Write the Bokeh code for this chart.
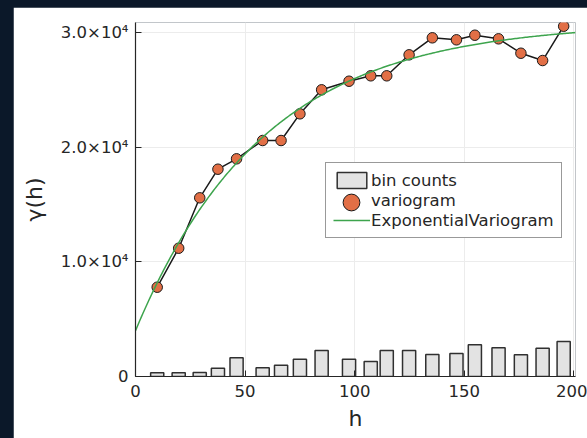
import numpy as np
from bokeh.plotting import figure
from bokeh.models import Range1d, FixedTicker, CustomJSTickFormatter, Legend, LegendItem
from bokeh.embed import file_html
from bokeh.resources import INLINE

# Empirical variogram: lag bin centres, semivariance and bin-count bar heights
lag = [9.9, 19.7, 29.3, 37.6, 46.1, 58.0, 66.4, 75.0, 84.9, 97.4,
       107.3, 114.6, 124.8, 135.4, 146.4, 154.8, 165.6, 175.8, 185.7, 195.3]
gamma = [7794, 11198, 15597, 18094, 19001, 20599, 20599, 22929, 25024, 25775,
         26246, 26246, 28079, 29563, 29388, 29790, 29475, 28218, 27581, 30575]
bin_height = [323, 323, 350, 726, 1635, 761, 988, 1513, 2273, 1513,
              1311, 2273, 2273, 1923, 2011, 2771, 2509, 1897, 2474, 3060]

# Fitted exponential variogram model parameters
nugget = 4000
sill = 30900
model_range = 176

x_ticks = [0, 50, 100, 150, 200]
y_ticks = [0, 10000, 20000, 30000]

FONT = "DejaVu Sans"
INK = "#262626"

h_model = np.linspace(0, 200.7, 300)
gamma_model = nugget + (sill - nugget) * (1 - np.exp(-3 * h_model / model_range))

p = figure(width=574, height=431,
           x_range=Range1d(0, 200.7), y_range=Range1d(0, 30900),
           output_backend="svg", toolbar_location=None,
           min_border_left=122, min_border_right=12,
           min_border_top=15, min_border_bottom=62,
           margin=(7, 0, 0, 13))
p.outline_line_color = None
p.background_fill_color = "white"
p.border_fill_color = "white"

bars = p.vbar(x=lag, top=bin_height, width=6.0, bottom=0,
              fill_color="#e3e3e3", line_color="#303030", line_width=1.5)
p.line(lag, gamma, line_color="#1a1a1a", line_width=1.5)
pts = p.scatter(lag, gamma, size=10.5, fill_color="#E26F46",
                line_color="#1a1a1a", line_width=1)
fit = p.line(h_model, gamma_model, line_color="#3DA44D", line_width=1.5)

# axes
for ax in (p.xaxis[0], p.yaxis[0]):
    ax.axis_line_color = INK
    ax.axis_line_width = 1.2
    ax.major_tick_line_color = INK
    ax.major_tick_in = 6
    ax.major_tick_out = 0
    ax.minor_tick_line_color = None
    ax.major_label_text_font = FONT
    ax.major_label_text_font_size = "16.5px"
    ax.major_label_text_color = INK
    ax.axis_label_text_font = FONT
    ax.axis_label_text_font_size = "22px"
    ax.axis_label_text_font_style = "normal"
    ax.axis_label_text_color = INK

p.xaxis.ticker = FixedTicker(ticks=x_ticks)
p.yaxis.ticker = FixedTicker(ticks=y_ticks)
p.yaxis.formatter = CustomJSTickFormatter(
    code="return tick == 0 ? '0' : (tick / 1e4).toFixed(1) + '×10⁴';")
p.xaxis.major_label_standoff = 8
p.yaxis.major_label_standoff = 7
p.xaxis.axis_label = "h"
p.yaxis.axis_label = "γ(h)"
p.xaxis.axis_label_standoff = 6
p.yaxis.axis_label_standoff = 11

p.xgrid.grid_line_color = "#ececec"
p.ygrid.grid_line_color = "#ececec"

legend = Legend(items=[LegendItem(label="bin counts", renderers=[bars]),
                       LegendItem(label="variogram", renderers=[pts]),
                       LegendItem(label="ExponentialVariogram", renderers=[fit])],
                location=(190, 138), padding=7, spacing=0, margin=0,
                glyph_width=37, glyph_height=20, label_height=20,
                label_standoff=1,
                label_text_font=FONT, label_text_font_size="16.5px",
                label_text_color=INK,
                border_line_color="#333333", border_line_width=1,
                background_fill_color="white", background_fill_alpha=1)
p.add_layout(legend)

# larger marker swatch for the variogram entry
marker_key = Legend(items=[LegendItem(label=" ", renderers=[pts])],
                    location=(194.5, 153), padding=0, spacing=0, margin=0,
                    glyph_width=42, glyph_height=42, label_width=0,
                    label_standoff=0, label_text_font_size="1px",
                    border_line_color=None, background_fill_alpha=0)
p.add_layout(marker_key)

html = file_html(p, INLINE, title="Variogram")
html = html.replace("<head>", "<head><style>html, body {margin: 0; padding: 0; "
                    "background: #0b1829;}</style>", 1)
open("out.html", "w").write(html)
